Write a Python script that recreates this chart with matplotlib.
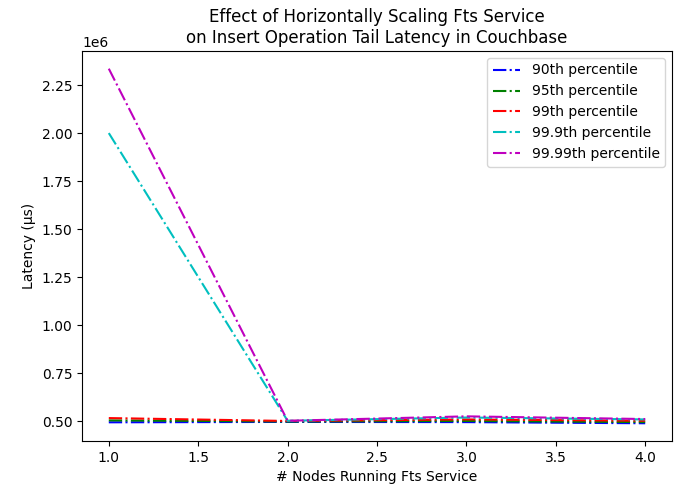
import numpy as np
import matplotlib
matplotlib.use("Agg")
import matplotlib.pyplot as plt

nodes = [1, 2, 3, 4]
p90 = [495000, 497000, 496000, 490000]
p95 = [505000, 499000, 502000, 496000]
p99 = [517000, 502000, 510000, 503000]
p999 = [2000000, 503000, 520000, 510000]
p9999 = [2335000, 503000, 526000, 512000]

labels = ["90th percentile", "95th percentile", "99th percentile",
          "99.9th percentile", "99.99th percentile"]
colors = ["b", "g", "r", "c", "m"]

fig, ax = plt.subplots(figsize=(6.86, 4.9), dpi=100)
for vals, lab, col in zip([p90, p95, p99, p999, p9999], labels, colors):
    ax.plot(nodes, vals, linestyle="-.", color=col, label=lab)

ax.set_title("Effect of Horizontally Scaling Fts Service\non Insert Operation Tail Latency in Couchbase")
ax.set_xlabel("# Nodes Running Fts Service")
ax.set_ylabel("Latency (µs)")
ax.legend(loc="upper right")
fig.subplots_adjust(left=0.1195, right=0.9796, top=0.896, bottom=0.1)
fig.savefig("out.png")
